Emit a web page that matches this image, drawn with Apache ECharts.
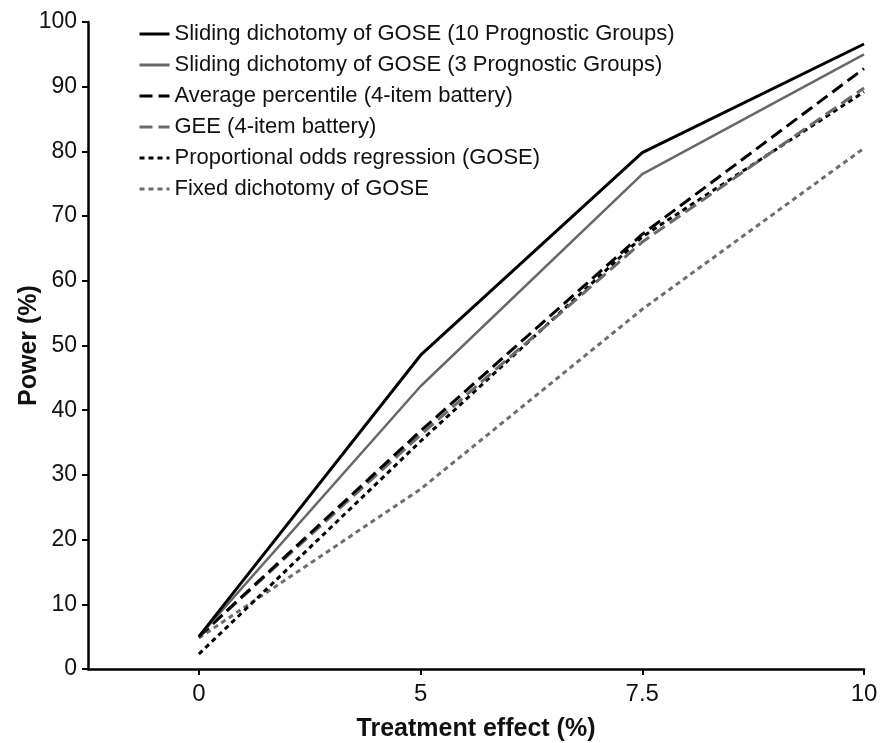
<!DOCTYPE html>
<html>
<head>
<meta charset="utf-8">
<script src="https://cdn.jsdelivr.net/npm/echarts@6/dist/echarts.min.js"></script>
<style>
html,body{margin:0;padding:0;background:#fff;}
#chart{width:882px;height:743px;}
</style>
</head>
<body>
<div id="chart"></div>
<script>
const xLabels = ['0', '5', '7.5', '10'];
const yTicks = [0, 10, 20, 30, 40, 50, 60, 70, 80, 90, 100];
const seriesNames = [
  'Sliding dichotomy of GOSE (10 Prognostic Groups)',
  'Sliding dichotomy of GOSE (3 Prognostic Groups)',
  'Average percentile (4-item battery)',
  'GEE (4-item battery)',
  'Proportional odds regression (GOSE)',
  'Fixed dichotomy of GOSE'
];
const sliding10 = [5.0, 48.5, 79.8, 96.6];
const sliding3 = [5.0, 43.7, 76.5, 95.0];
const avgPercentile = [5.0, 36.8, 67.2, 92.8];
const gee = [5.0, 36.2, 66.0, 89.8];
const propOdds = [2.3, 35.2, 66.8, 89.2];
const fixedDich = [4.8, 27.8, 55.6, 80.5];

const values = [sliding10, sliding3, avgPercentile, gee, propOdds, fixedDich];
const styles = [
  {color: '#000000', width: 3, type: 'solid'},
  {color: '#686868', width: 2.5, type: 'solid'},
  {color: '#000000', width: 3, type: [13, 6]},
  {color: '#6a6a6a', width: 3, type: [13, 6]},
  {color: '#000000', width: 3, type: [5, 4]},
  {color: '#6e6e6e', width: 3, type: [5, 4]}
];

const FONT = '"Liberation Sans", Arial, sans-serif';
const chart = echarts.init(document.getElementById('chart'), null, {renderer: 'canvas'});
chart.setOption({
  animation: false,
  backgroundColor: '#ffffff',
  grid: {left: 88, right: 18, top: 22, bottom: 74, containLabel: false, outerBoundsMode: 'none'},
  legend: {
    orient: 'vertical',
    left: 138,
    top: 23,
    padding: 0,
    itemWidth: 30,
    itemHeight: 14,
    itemGap: 9,
    itemStyle: {opacity: 0},
    lineStyle: {width: 3},
    textStyle: {fontFamily: FONT, fontSize: 22, color: '#111', lineHeight: 22},
    data: seriesNames
  },
  xAxis: {
    type: 'value',
    min: -0.5,
    max: 3,
    name: 'Treatment effect (%)',
    nameLocation: 'middle',
    nameGap: 48,
    nameMoveOverlap: false,
    nameTextStyle: {fontFamily: FONT, fontSize: 25, fontWeight: 'bold', color: '#111'},
    axisLine: {onZero: false, lineStyle: {color: '#000', width: 2.5}},
    axisTick: {show: true, inside: false, length: 6, lineStyle: {color: '#000', width: 2}, customValues: [0, 1, 2, 3]},
    axisLabel: {
      customValues: [0, 1, 2, 3],
      margin: 13,
      fontFamily: FONT, fontSize: 24, color: '#111',
      formatter: v => xLabels[Math.round(v)]
    },
    splitLine: {show: false}
  },
  yAxis: {
    type: 'value',
    min: 0,
    max: 100,
    interval: 10,
    name: 'Power (%)',
    nameLocation: 'middle',
    nameGap: 46,
    nameMoveOverlap: false,
    nameTextStyle: {fontFamily: FONT, fontSize: 25, fontWeight: 'bold', color: '#111'},
    axisLine: {show: true, onZero: false, lineStyle: {color: '#000', width: 2.5}},
    axisTick: {show: true, inside: false, length: 6, lineStyle: {color: '#000', width: 2}},
    axisLabel: {margin: 11, fontFamily: FONT, fontSize: 23, color: '#111',
      formatter: v => (yTicks.indexOf(v) >= 0 ? String(v) : '')},
    splitLine: {show: false}
  },
  series: seriesNames.map((name, i) => ({
    name: name,
    type: 'line',
    symbol: 'none',
    showSymbol: false,
    z: 10 - i,
    data: values[i].map((v, k) => [k, v]),
    lineStyle: {color: styles[i].color, width: styles[i].width, type: styles[i].type},
    itemStyle: {color: styles[i].color}
  }))
});
</script>
</body>
</html>
